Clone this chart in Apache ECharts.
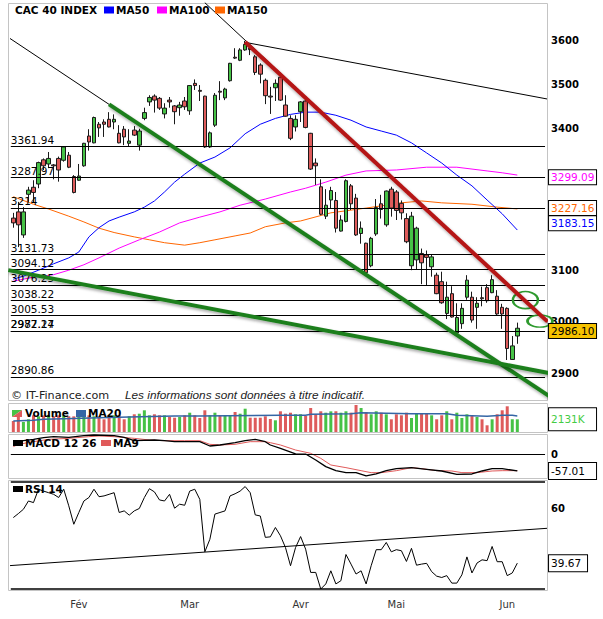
<!DOCTYPE html>
<html>
<head>
<meta charset="utf-8">
<script src="https://cdn.jsdelivr.net/npm/echarts/dist/echarts.min.js"></script>
<style>
html, body { margin: 0; padding: 0; background: #fff; }
#chart { width: 603px; height: 619px; }
</style>
</head>
<body>
<div id="chart"></div>
<script>
// CAC 40, daily candles (Jan 13 -> Jun 5)
var opens  = [3208,3221,3173,3258,3273,3280,3332,3323,3321,3335, 3331,3342,3296,3288,3319,3384,3369,3410,3415,3421,
              3415,3390,3399,3368,3397,3364,3423,3460,3473,3468, 3433,3464,3451,3447,3462,3440,3502,3486,3473,3360,
              3408,3484,3469,3508,3562,3555,3579,3583,3563,3544, 3509,3473,3492,3516,3453,3423,3404,3438,3462,3390,
              3325,3274,3212,3246,3245,3181,3201,3276,3250,3176, 3156,3110,3175,3238,3194,3269,3263,3239,3207,3110,
              3122,3135,3132,3108,3091,3078,3015,3054,2977,2995, 3047,3047,3027,3046,3066,3056,3049,3027,3025,2926, 2971];
var closes = [3198,3194,3221,3267,3262,3326,3319,3335,3319,3310, 3360,3316,3262,3297,3368,3371,3425,3402,3410,3404,
              3421,3369,3382,3373,3386,3395,3436,3470,3464,3446, 3446,3460,3438,3453,3449,3497,3497,3484,3360,3391,
              3475,3482,3489,3548,3560,3579,3592,3580,3527,3523, 3474,3471,3502,3464,3428,3379,3421,3460,3403,3312,
              3319,3216,3235,3266,3187,3204,3287,3238,3173,3187, 3096,3166,3230,3226,3265,3229,3224,3219,3159,3212,
              3187,3116,3127,3128,3054,3036,3047,3008,3007,3025, 3081,3002,3035,3044,3040,3082,3014,3014,2947,2952, 2986.10];
var lows   = [3188,3148,3167,3242,3240,3271,3310,3314,3290,3285, 3328,3314,3260,3287,3317,3352,3368,3382,3382,3403,
              3399,3368,3364,3360,3384,3352,3419,3451,3436,3442, 3423,3447,3410,3429,3442,3431,3487,3462,3358,3358,
              3404,3464,3464,3506,3558,3553,3577,3567,3521,3502, 3455,3433,3462,3462,3427,3375,3394,3415,3401,3310,
              3278,3214,3206,3228,3178,3180,3199,3225,3171,3155, 3094,3107,3171,3207,3190,3211,3204,3205,3156,3101,
              3103,3073,3071,3088,3053,3034,3004,3007,2971,2985, 3042,2997,2985,3029,3036,3055,3012,2985,2925,2925, 2956];
var highs  = [3219,3242,3231,3274,3288,3328,3335,3349,3323,3339, 3362,3349,3299,3323,3369,3399,3427,3415,3421,3437,
              3432,3408,3406,3399,3406,3400,3447,3475,3477,3471, 3457,3471,3453,3460,3471,3498,3511,3498,3474,3394,
              3480,3507,3492,3549,3583,3583,3600,3587,3567,3548, 3513,3494,3511,3525,3475,3430,3430,3462,3464,3391,
              3335,3290,3269,3274,3263,3214,3290,3280,3259,3201, 3157,3169,3248,3257,3266,3274,3267,3245,3218,3221,
              3190,3145,3141,3132,3096,3098,3078,3069,3035,3035, 3091,3058,3047,3068,3073,3091,3061,3034,3027,2971, 2997];

// volume in thousands
var volumes = [1848,2520,1680,2134,2806,2638,2790,2815,2630,2806, 2800,2645,2630,2810,2638,2795,2640,2630,2134,2645,
               2806,2800,2134,2638,2974,3074,3646,2806,2974,2810, 2800,2520,2402,2520,2806,3242,2806,2352,3646,2806,
               3242,2806,2800,2810,3360,3074,3914,2402,2410,2400, 2638,2184,1966,3478,3074,3242,2974,2980,2688,4032,
               2974,3478,3242,3470,3485,3242,3478,3250,4536,4032, 3360,2974,3478,3242,2974,2134,2974,2806,3242,2352,
               3074,3080,3070,2806,2134,2806,3478,2134,3242,2352, 2974,2806,2520,2134,1126,2134,2974,3646,4318,2134, 2131];
var volumeMa20 = [[0,1848],[4,1960],[6,2128],[10,2240],[17,2408],[23,2520],[32,2688],[37,2688],[53,2800],[58,2800],
                  [59,2968],[67,3080],[69,3248],[79,3080],[86,3080],[88,2800],[94,2632],[97,2800],[99,2800],[100,2688]];

// moving averages of the index
var ma50  = [[0,3083],[2,3089],[5,3101],[8,3114],[11,3126],[13,3138],[15,3169],[17,3188],[19,3202],[21,3210],
             [24,3221],[26,3231],[28,3244],[30,3263],[32,3284],[34,3301],[37,3325],[40,3338],[43,3358],[46,3389],
             [49,3410],[52,3423],[55,3432],[58,3437],[61,3437],[64,3430],[67,3419],[70,3404],[73,3395],[76,3386],
             [79,3369],[82,3347],[85,3325],[88,3299],[91,3276],[94,3246],[97,3217],[100,3183.15]];
var ma100 = [[0,3079],[4,3087],[8,3092],[11,3101],[14,3112],[17,3126],[21,3146],[25,3163],[29,3179],[33,3198],
             [37,3210],[41,3221],[45,3235],[50,3248],[55,3263],[58,3271],[62,3284],[66,3299],[70,3308],[76,3310],
             [82,3316],[88,3316],[94,3308],[97,3304],[100,3299.09]];
var ma150 = [[0,3253],[4,3237],[7,3227],[11,3212],[14,3200],[17,3187],[20,3178],[24,3169],[27,3163],[30,3157],
             [34,3152],[37,3157],[40,3163],[44,3171],[47,3177],[50,3190],[54,3198],[57,3202],[63,3219],[70,3229],
             [77,3240],[81,3244],[85,3240],[91,3237],[96,3231],[100,3227.16]];

// MACD 12 26 and its MA9
var macd = [[0,39.3],[2,46.1],[4,50.7],[6,56.4],[8,59.8],[11,57.5],[14,63.2],[16,65.5],[20,63.2],[22,57.5],
            [24,46.1],[28,48.4],[30,46.1],[32,42.7],[37,42.7],[39,28],[41,31.4],[44,39.3],[46,46.1],[48,50.7],
            [50,42.7],[51,31.4],[53,20],[56,1],[58,0.5],[60,-19.8],[62,-42.5],[64,-56.2],[66,-63],[68,-63],
            [70,-74.3],[72,-67.5],[74,-56.2],[76,-49.3],[79,-45.9],[82,-51.6],[85,-57.3],[88,-68.7],[91,-67.5],[93,-57.3],
            [95,-49.3],[97,-49.3],[100,-57.01]];
var macdMa9 = [[0,25.7],[1,33.7],[4,42.7],[7,50.7],[11,54.1],[15,59.8],[17,62.1],[20,59.8],[24,54.1],[27,48.4],
               [30,46.1],[34,46.1],[37,46.1],[39,33.7],[41,31.4],[44,33.7],[47,42.7],[50,42.7],[51,39.3],[53,31.4],
               [56,14.3],[59,3],[61,-14.1],[63,-36.8],[66,-45.9],[69,-56.2],[71,-63],[73,-63],[76,-56.2],[79,-45.9],
               [81,-49.3],[84,-56.2],[87,-57.3],[89,-62.9],[92,-62.9],[95,-57.3],[97,-56.2],[100,-56.2]];

// RSI 14
var rsi = [56.7,58.2,59.8,62.9,62.3,67.3,66.6,66,65.4,64.2, 67.3,61.1,54.2,58.6,62.9,64.2,67.3,64.5,64.8,65.4,
           66,58.6,59.2,57.6,59.2,60.1,64.2,67.5,66.3,63.3, 62.9,65.4,60.2,61.7,61.3,66.6,67.3,63.5,43.9,48.6,
           58,58.6,59.2,64.8,65.6,66.6,68.3,66,57.7,57.3, 49.3,49.5,53,49.9,45.5,38.7,45.5,49.6,44.9,36.2,
           36.2,30,31.9,36.8,31.9,33.1,42.9,39.3,35.6,36.8, 31.9,38.7,44.7,44.7,47.4,43.9,44.7,44.3,40.3,45.2,
           38.9,39.3,39.6,36.5,34.8,34.3,35,32.2,32.2,35.3, 42,36,39.7,40.9,40.6,45.9,40.2,40.2,35,36, 39.67];

// horizontal levels drawn on the chart
var levelValues = [3361.94,3287.97,3214,3131.73,3094.12,3076.25,3038.22,3005.53,2987.24,2972.17,2890.86];
var levelLabels = ['3361.94','3287.97','3214','3131.73','3094.12','3076.25','3038.22','3005.53','2987.24','2972.17','2890.86'];

// trend lines, [day index, price]
var fallingGuide  = [[-1,3608.5],[19,3454.4]];
var fallingGreen  = [[19,3454.4],[108,2846.6]];
var supportGreen  = [[-1,3101.2],[107,2899.1]];
var peakGuide     = [[38,3690.7],[100,3054]];
var resistanceRed = [[46,3597.4],[106,2999]];
var topLine       = [[46,3596.7],[106,3466.4]];
var rsiTrend      = [[-1,38.7],[106,52.7]];
var circleSpots   = [[102,3041.3],[104,3000]];

var priceTicks  = [2900,3000,3100,3200,3400,3500,3600];
var monthLabels = ['Fév','Mar','Avr','Mai','Jun'];
var monthStarts = [13,35,57,76,98];
var slotCount = 106;

var ln = Math.log;
var F = 'DejaVu Sans';
var UP = '#46c246', DOWN = '#de5b5b';

var cats = [];
for (var i = 0; i < slotCount; i++) cats.push(String(i));

function toLn(pts) { return pts.map(function (p) { return [p[0], ln(p[1])]; }); }

function valueBox(text, color, bg, width) {
  return {
    show: true, position: 'end', distance: 4, formatter: text,
    color: color, backgroundColor: bg, borderColor: '#000', borderWidth: 1,
    padding: [1, 2], width: width, fontSize: 10.5, lineHeight: 12, fontFamily: F
  };
}
function hiddenLine(v, label) {
  return { yAxis: v, lineStyle: { color: 'rgba(0,0,0,0)', width: 0.01, type: 'solid' }, label: label };
}

var gridL = 10.8, gridW = slotCount * 5.04;
function grid(top, height) { return { left: gridL, width: gridW, top: top, height: height }; }
function xAx(idx, labels) {
  return {
    type: 'category', gridIndex: idx, data: cats, boundaryGap: true,
    axisLine: { show: false }, axisTick: { show: false }, splitLine: { show: false },
    axisLabel: labels ? {
      show: true, margin: 10, color: '#333', fontSize: 10, fontFamily: F,
      interval: function (i) { return monthStarts.indexOf(i) >= 0; },
      formatter: function (v, i) { return monthLabels[monthStarts.indexOf(i)]; }
    } : { show: false }
  };
}
function yAx(idx, min, max, ticks, fmt) {
  return {
    type: 'value', gridIndex: idx, min: min, max: max, position: 'right',
    axisLine: { show: false }, axisTick: { show: false }, splitLine: { show: false },
    axisLabel: ticks ? {
      show: true, customValues: ticks, margin: 6, fontWeight: 'bold',
      fontSize: 10, fontFamily: F, color: '#000', formatter: fmt
    } : { show: false }
  };
}

var candleData = opens.map(function (o, i) {
  return [ln(o), ln(closes[i]), ln(lows[i]), ln(highs[i])];
});
var volData = volumes.map(function (v, i) {
  return { value: v, itemStyle: { color: closes[i] >= opens[i] ? UP : DOWN } };
});

var greenStyle = { color: '#1f7f1f', width: 4, shadowColor: 'rgba(0,0,0,0.35)', shadowBlur: 3, shadowOffsetX: 1, shadowOffsetY: 2 };
var redStyle = { color: '#b51414', width: 4, shadowColor: 'rgba(0,0,0,0.35)', shadowBlur: 3, shadowOffsetX: 1, shadowOffsetY: 2 };

function trend(pts, style, z, extra) {
  var s = {
    type: 'line', xAxisIndex: 0, yAxisIndex: 0, data: toLn(pts), symbol: 'none',
    clip: false, silent: true, z: z, lineStyle: style
  };
  if (extra) for (var k in extra) s[k] = extra[k];
  return s;
}

var chart = echarts.init(document.getElementById('chart'), null, { renderer: 'svg' });

chart.setOption({
  animation: false,
  backgroundColor: '#fff',
  textStyle: { fontFamily: F },
  grid: [grid(3, 396), grid(404, 28), grid(434, 44), grid(482, 107)],
  xAxis: [xAx(0), xAx(1), xAx(2), xAx(3, true)],
  yAxis: [
    yAx(0, ln(2851.7), ln(3690), priceTicks.map(ln), function (v) { return Math.round(Math.exp(v)); }),
    yAx(1, 0, 4704),
    yAx(2, -81.2, 68.9, [0], function (v) { return '0'; }),
    yAx(3, 30, 70, [60], function (v) { return '60'; })
  ],
  series: [
    {
      // support / resistance levels
      type: 'line', xAxisIndex: 0, yAxisIndex: 0, data: [], z: 1, silent: true,
      markLine: {
        silent: true, symbol: 'none', animation: false,
        lineStyle: { color: '#000', width: 1, type: 'solid' },
        label: { position: 'insideStartTop', distance: [0, 1], color: '#000', fontSize: 10.5, fontFamily: F,
                 formatter: function (p) { return p.name; } },
        data: levelValues.map(function (v, i) { return { yAxis: ln(v), name: levelLabels[i] }; })
      }
    },
    {
      name: 'MA150', type: 'line', xAxisIndex: 0, yAxisIndex: 0, data: toLn(ma150), symbol: 'none', z: 2,
      lineStyle: { color: '#ff6600', width: 1 },
      markLine: { silent: true, symbol: 'none', data: [hiddenLine(ln(3227.16), valueBox('3227.16', '#ff6600', '#fff', 43))] }
    },
    {
      name: 'MA100', type: 'line', xAxisIndex: 0, yAxisIndex: 0, data: toLn(ma100), symbol: 'none', z: 2,
      lineStyle: { color: '#ff00ff', width: 1 },
      markLine: { silent: true, symbol: 'none', data: [hiddenLine(ln(3299.09), valueBox('3299.09', '#ff00ff', '#fff', 43))] }
    },
    {
      name: 'MA50', type: 'line', xAxisIndex: 0, yAxisIndex: 0, data: toLn(ma50), symbol: 'none', z: 2,
      lineStyle: { color: '#0000ff', width: 1 },
      markLine: { silent: true, symbol: 'none', data: [hiddenLine(ln(3183.15), valueBox('3183.15', '#0000ff', '#fff', 43))] }
    },
    {
      name: 'CAC 40 INDEX', type: 'candlestick', xAxisIndex: 0, yAxisIndex: 0, data: candleData, z: 3,
      barWidth: 4,
      itemStyle: { color: UP, color0: DOWN, borderColor: '#1a1a1a', borderColor0: '#1a1a1a', borderWidth: 1 },
      markLine: { silent: true, symbol: 'none', data: [hiddenLine(ln(2986.10), valueBox('2986.10', '#000', '#f6c200', 43))] }
    },
    trend(fallingGuide, { color: '#000', width: 1 }, 4),
    trend(peakGuide, { color: '#000', width: 1 }, 4),
    trend(topLine, { color: '#000', width: 1 }, 4),
    trend(fallingGreen, greenStyle, 5),
    trend(supportGreen, greenStyle, 5),
    trend(resistanceRed, redStyle, 5, {
      markPoint: {
        silent: true, label: { show: false },
        itemStyle: { color: 'rgba(0,0,0,0)', borderColor: '#2e9a2e', borderWidth: 2 },
        data: [
          { coord: [circleSpots[0][0], ln(circleSpots[0][1])], symbol: 'circle', symbolSize: [25, 17], symbolOffset: [-2, 0] },
          { coord: [circleSpots[1][0], ln(circleSpots[1][1])], symbol: 'circle', symbolSize: [25, 12], symbolOffset: [2.5, 0] }
        ]
      }
    }),
    {
      name: 'Volume', type: 'bar', xAxisIndex: 1, yAxisIndex: 1, data: volData, barWidth: 3, z: 2,
      markLine: { silent: true, symbol: 'none',
        data: [hiddenLine(2131, Object.assign(valueBox('2131K', '#44cc44', '#fff', 43), { padding: [5, 2] }))] }
    },
    {
      name: 'MA20', type: 'line', xAxisIndex: 1, yAxisIndex: 1, data: volumeMa20, symbol: 'none', z: 3,
      lineStyle: { color: '#3566a5', width: 1.5 }
    },
    {
      name: 'MA9', type: 'line', xAxisIndex: 2, yAxisIndex: 2, data: macdMa9, symbol: 'none', z: 2,
      lineStyle: { color: '#e05a5a', width: 1 }
    },
    {
      name: 'MACD 12 26', type: 'line', xAxisIndex: 2, yAxisIndex: 2, data: macd, symbol: 'none', z: 3,
      lineStyle: { color: '#000', width: 1.3 },
      markLine: { silent: true, symbol: 'none',
        data: [
          { yAxis: 0, lineStyle: { color: '#000', width: 1, type: 'solid' }, label: { show: false } },
          hiddenLine(-57.01, Object.assign(valueBox('-57.01', '#000', '#fff', 43), { padding: [2, 2] }))
        ] }
    },
    {
      name: 'RSI 14', type: 'line', xAxisIndex: 3, yAxisIndex: 3, data: rsi, symbol: 'none', z: 3,
      lineStyle: { color: '#000', width: 1 },
      markLine: { silent: true, symbol: 'none',
        data: [
          { yAxis: 70, lineStyle: { color: '#000', width: 1.5, type: 'solid' }, label: { show: false } },
          { yAxis: 30, lineStyle: { color: '#000', width: 1.5, type: 'solid' }, label: { show: false } },
          hiddenLine(39.67, Object.assign(valueBox('39.67', '#000', '#fff', 34), { padding: [2, 2] }))
        ] }
    },
    {
      type: 'line', xAxisIndex: 3, yAxisIndex: 3, data: rsiTrend, symbol: 'none', clip: false, silent: true, z: 2,
      lineStyle: { color: '#000', width: 1 }
    }
  ],
  graphic: [
    // panel frames
    { type: 'rect', z: 0, shape: { x: 8.5, y: 3.5, width: 539, height: 397 }, style: { fill: 'none', stroke: '#c4c4c4', lineWidth: 1 } },
    { type: 'rect', z: 0, shape: { x: 8.5, y: 403.5, width: 539, height: 29 }, style: { fill: 'none', stroke: '#c4c4c4', lineWidth: 1 } },
    { type: 'rect', z: 0, shape: { x: 8.5, y: 434.5, width: 539, height: 44 }, style: { fill: 'none', stroke: '#c4c4c4', lineWidth: 1 } },
    { type: 'rect', z: 0, shape: { x: 8.5, y: 480.5, width: 539, height: 110 }, style: { fill: 'none', stroke: '#c4c4c4', lineWidth: 1 } },

    // title and legend of the main panel
    { type: 'text', z: 100, x: 15, y: 10, style: { text: 'CAC 40 INDEX', font: 'bold 10.5px "DejaVu Sans"', fill: '#000', verticalAlign: 'middle' } },
    { type: 'rect', z: 100, shape: { x: 104, y: 6.5, width: 10, height: 7 }, style: { fill: '#0000ff' } },
    { type: 'text', z: 100, x: 116, y: 10, style: { text: 'MA50', font: 'bold 10.5px "DejaVu Sans"', fill: '#000', verticalAlign: 'middle' } },
    { type: 'rect', z: 100, shape: { x: 157, y: 6.5, width: 10, height: 7 }, style: { fill: '#ff00ff' } },
    { type: 'text', z: 100, x: 169, y: 10, style: { text: 'MA100', font: 'bold 10.5px "DejaVu Sans"', fill: '#000', verticalAlign: 'middle' } },
    { type: 'rect', z: 100, shape: { x: 215, y: 6.5, width: 10, height: 7 }, style: { fill: '#ff6600' } },
    { type: 'text', z: 100, x: 227, y: 10, style: { text: 'MA150', font: 'bold 10.5px "DejaVu Sans"', fill: '#000', verticalAlign: 'middle' } },

    // source line
    { type: 'text', z: 100, x: 11, y: 395, style: { text: '© IT-Finance.com', font: '11.2px "DejaVu Sans"', fill: '#222', verticalAlign: 'middle' } },
    { type: 'text', z: 100, x: 125, y: 395, style: { text: 'Les informations sont données à titre indicatif.', font: 'italic 11.8px "Liberation Sans"', fill: '#222', verticalAlign: 'middle' } },

    // volume legend
    { type: 'polygon', z: 100, shape: { points: [[12, 410], [22, 410], [12, 417]] }, style: { fill: UP } },
    { type: 'polygon', z: 100, shape: { points: [[22, 410], [22, 417], [12, 417]] }, style: { fill: DOWN } },
    { type: 'text', z: 100, x: 25, y: 413, style: { text: 'Volume', font: 'bold 10.5px "DejaVu Sans"', fill: '#000', verticalAlign: 'middle' } },
    { type: 'rect', z: 100, shape: { x: 76, y: 410, width: 10, height: 7 }, style: { fill: '#3566a5' } },
    { type: 'text', z: 100, x: 88, y: 413, style: { text: 'MA20', font: 'bold 10.5px "DejaVu Sans"', fill: '#000', verticalAlign: 'middle' } },

    // MACD legend
    { type: 'rect', z: 100, shape: { x: 13, y: 440, width: 10, height: 6 }, style: { fill: '#000' } },
    { type: 'text', z: 100, x: 25, y: 443, style: { text: 'MACD 12 26', font: 'bold 10.5px "DejaVu Sans"', fill: '#000', verticalAlign: 'middle' } },
    { type: 'rect', z: 100, shape: { x: 101, y: 440, width: 10, height: 6 }, style: { fill: '#e05a5a' } },
    { type: 'text', z: 100, x: 113, y: 443, style: { text: 'MA9', font: 'bold 10.5px "DejaVu Sans"', fill: '#000', verticalAlign: 'middle' } },

    // RSI legend
    { type: 'rect', z: 100, shape: { x: 13, y: 486, width: 10, height: 6 }, style: { fill: '#000' } },
    { type: 'text', z: 100, x: 25, y: 489, style: { text: 'RSI 14', font: 'bold 10.5px "DejaVu Sans"', fill: '#000', verticalAlign: 'middle' } }
  ]
});
</script>
</body>
</html>
